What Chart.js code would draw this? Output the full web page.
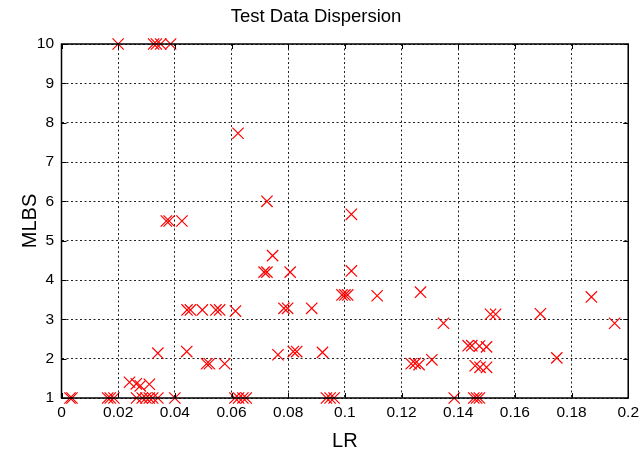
<!DOCTYPE html>
<html>
<head>
<meta charset="utf-8">
<script src="https://cdn.jsdelivr.net/npm/chart.js@4/dist/chart.umd.min.js"></script>
<style>
  html, body { margin: 0; padding: 0; background: #fff; }
  #wrap { width: 644px; height: 454px; }
</style>
</head>
<body>
<div id="wrap"><canvas id="c" width="644" height="454"></canvas></div>
<script>
'use strict';
// Test Data Dispersion — LR vs MLBS, croix rouges, grille pointillée façon MATLAB.
const lrVals = [
  0.020, 0.0325, 0.0335, 0.035, 0.0385,
  0.0623, 0.0725, 0.1023,
  0.0370, 0.0380, 0.0425,
  0.0745, 0.0715, 0.0725, 0.0807, 0.1023,
  0.0990, 0.1000, 0.1010, 0.1114, 0.1267, 0.187,
  0.0443, 0.0455, 0.0497, 0.0545, 0.0558, 0.0614,
  0.0785, 0.0798, 0.0883,
  0.1514, 0.1532, 0.169, 0.1348, 0.1952,
  0.1435, 0.1448, 0.1475, 0.150,
  0.034, 0.0442, 0.0764, 0.0818, 0.0830, 0.0921,
  0.1748, 0.1307,
  0.0512, 0.0522, 0.0576, 0.1234, 0.1248, 0.1262,
  0.1460, 0.1477, 0.1500,
  0.024, 0.0264, 0.0278, 0.031,
  0.003, 0.0037, 0.0163, 0.0172, 0.0185, 0.0265, 0.0285, 0.0298, 0.0310, 0.0322, 0.0340, 0.040,
  0.0612, 0.0625, 0.064, 0.0652, 0.0935, 0.0948, 0.0962, 0.1386, 0.1455, 0.1465, 0.1475
];
const mlbsVals = [
  10, 10, 10, 10, 10,
  7.73, 6.0, 5.67,
  5.5, 5.5, 5.5,
  4.62, 4.2, 4.2, 4.2, 4.23,
  3.62, 3.62, 3.62, 3.6, 3.69, 3.57,
  3.24, 3.24, 3.24, 3.24, 3.24, 3.21,
  3.28, 3.28, 3.28,
  3.13, 3.13, 3.14, 2.9, 2.9,
  2.33, 2.33, 2.32, 2.30,
  2.14, 2.18, 2.10, 2.18, 2.18, 2.16,
  2.02, 1.97,
  1.87, 1.87, 1.87, 1.87, 1.88, 1.85,
  1.82, 1.78, 1.78,
  1.40, 1.36, 1.31, 1.35,
  1, 1, 1, 1, 1, 1, 1, 1, 1, 1, 1, 1,
  1, 1, 1, 1, 1, 1, 1, 1, 1, 1, 1
];
const xTickVals = [0, 0.02, 0.04, 0.06, 0.08, 0.1, 0.12, 0.14, 0.16, 0.18, 0.2];
const xTickLabels = ['0', '0.02', '0.04', '0.06', '0.08', '0.1', '0.12', '0.14', '0.16', '0.18', '0.2'];
const yTickVals = [1, 2, 3, 4, 5, 6, 7, 8, 9, 10];
const yTickLabels = ['1', '2', '3', '4', '5', '6', '7', '8', '9', '10'];

const FONT = 'Arial, "Liberation Sans", Helvetica, sans-serif';

// cadre complet + petites graduations vers l'intérieur (style MATLAB)
const boxTicks = {
  id: 'boxTicks',
  afterDatasetsDraw(chart) {
    const { ctx, chartArea: a, scales: { x, y } } = chart;
    const L = 5;
    ctx.save();
    ctx.strokeStyle = '#000'; ctx.lineWidth = 1;
    ctx.beginPath();
    x.ticks.forEach(t => {
      const px = Math.round(x.getPixelForValue(t.value)) + 0.5;
      ctx.moveTo(px, a.bottom); ctx.lineTo(px, a.bottom - L);
      ctx.moveTo(px, a.top); ctx.lineTo(px, a.top + L);
    });
    y.ticks.forEach(t => {
      const py = Math.round(y.getPixelForValue(t.value)) + 0.5;
      ctx.moveTo(a.left, py); ctx.lineTo(a.left + L, py);
      ctx.moveTo(a.right, py); ctx.lineTo(a.right - L, py);
    });
    ctx.stroke();
    ctx.lineWidth = 1.5;
    ctx.strokeRect(a.left, a.top, a.right - a.left, a.bottom - a.top);
    ctx.restore();
  }
};

new Chart(document.getElementById('c').getContext('2d'), {
  type: 'scatter',
  data: {
    datasets: [{
      data: lrVals.map((v, i) => ({ x: v, y: mlbsVals[i] })),
      pointStyle: 'crossRot', pointRadius: 8, pointHoverRadius: 8,
      borderColor: '#ff0000', backgroundColor: '#ff0000', borderWidth: 1.2,
      clip: false
    }]
  },
  options: {
    responsive: false, animation: false, devicePixelRatio: 1,
    layout: { padding: { left: 0, right: 12, top: 0, bottom: 0 } },
    plugins: {
      legend: { display: false }, tooltip: { enabled: false },
      title: { display: true, text: 'Test Data Dispersion', color: '#000', font: { family: FONT, size: 18.5, weight: 'normal' }, padding: { top: 6, bottom: 15.8 } }
    },
    scales: {
      x: {
        type: 'linear', min: 0, max: 0.2,
        afterBuildTicks: s => { s.ticks = xTickVals.map(v => ({ value: v })); },
        afterFit: s => { s.height = 56; },
        ticks: { color: '#000', padding: 5, font: { family: FONT, size: 15.5 }, maxRotation: 0, autoSkip: false,
          callback: (v, i) => xTickLabels[i] },
        grid: { color: '#222', lineWidth: 1, drawTicks: false },
        border: { display: false, dash: [2, 2.5] },
        title: { display: true, text: 'LR', color: '#000', font: { family: FONT, size: 20 }, padding: { top: 0, bottom: 1 } }
      },
      y: {
        type: 'linear', min: 1, max: 10,
        afterBuildTicks: s => { s.ticks = yTickVals.map(v => ({ value: v })); },
        afterFit: s => { s.width = 61.5; },
        ticks: { color: '#000', padding: 7.5, font: { family: FONT, size: 15.5 }, autoSkip: false,
          callback: (v, i) => yTickLabels[i] },
        grid: { color: '#222', lineWidth: 1, drawTicks: false },
        border: { display: false, dash: [2, 2.5] },
        title: { display: true, text: 'MLBS', color: '#000', font: { family: FONT, size: 20 }, padding: { top: 18, bottom: 0 } }
      }
    }
  },
  plugins: [boxTicks]
});
</script>
</body>
</html>
